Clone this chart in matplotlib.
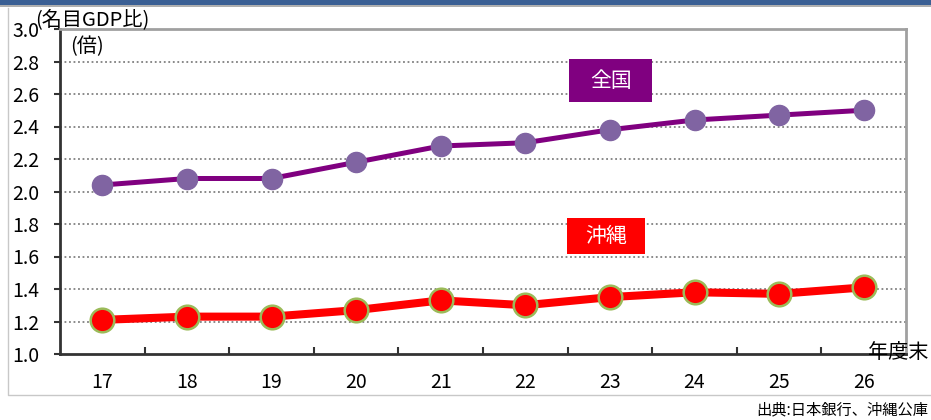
import matplotlib
matplotlib.use("Agg")
import matplotlib.pyplot as plt
from matplotlib.patches import Rectangle
from matplotlib.lines import Line2D

plt.rcParams['font.family'] = ['Noto Sans CJK JP', 'DejaVu Sans']

years = ['17', '18', '19', '20', '21', '22', '23', '24', '25', '26']
zenkoku = [2.04, 2.08, 2.08, 2.18, 2.28, 2.30, 2.38, 2.44, 2.47, 2.50]
okinawa = [1.21, 1.23, 1.23, 1.27, 1.33, 1.30, 1.35, 1.38, 1.37, 1.41]
yticks = [1.0, 1.2, 1.4, 1.6, 1.8, 2.0, 2.2, 2.4, 2.6, 2.8, 3.0]

W, H = 931, 420
fig = plt.figure(figsize=(W / 100, H / 100), dpi=100)
fig.patch.set_facecolor('white')

# top blue band and outer frame
fig.add_artist(Rectangle((0, 1 - 5 / H), 1, 5 / H, transform=fig.transFigure,
                         facecolor='#3a5f94', edgecolor='none'))
fig.add_artist(Line2D([0, 1], [1 - 6 / H, 1 - 6 / H], transform=fig.transFigure,
                      color='#a0a0a0', lw=1.2))
fig.add_artist(Line2D([8 / W, 8 / W, 1], [1 - 8 / H, 1 - 395 / H, 1 - 395 / H],
                      transform=fig.transFigure, color='#c8c8c8', lw=1))

ax = fig.add_axes([60 / W, 1 - 354 / H, (906 - 60) / W, (354 - 29) / H])
x = list(range(len(years)))

ax.plot(x, zenkoku, color='#800080', lw=3.6, marker='o', markersize=14.5,
        markerfacecolor='#8064a2', markeredgecolor='#8064a2', zorder=3)
ax.plot(x, okinawa, color='#ff0000', lw=5.8, marker='o', markersize=17,
        markerfacecolor='#ff0000', markeredgecolor='#9bbb59', markeredgewidth=1.8,
        zorder=3)

ax.set_xlim(-0.5, len(years) - 0.5)
ax.set_ylim(1.0, 3.0)
ax.set_yticks(yticks)
ax.set_yticklabels([f'{v:.1f}' for v in yticks], fontsize=14)
ax.set_xticks(x)
ax.set_xticklabels(years, fontsize=14)
ax.tick_params(axis='x', length=0, pad=13)
ax.tick_params(axis='y', length=4, width=1.5, direction='out', pad=11, color='#333333')
# minor ticks at category boundaries pointing up
ax.set_xticks([i + 0.5 for i in range(len(years) - 1)], minor=True)
ax.tick_params(axis='x', which='minor', length=5, width=1.5, direction='in', color='#333333')

for v in yticks[1:-1]:
    ax.axhline(v, color='#808080', lw=1.3, ls=(0, (1, 1.5)), zorder=1)

for s in ['left', 'bottom']:
    ax.spines[s].set_color('#333333')
    ax.spines[s].set_linewidth(2)
for s in ['top', 'right']:
    ax.spines[s].set_color('#a0a0a0')
    ax.spines[s].set_linewidth(2)

# series labels (boxes)
ax.add_patch(Rectangle((6.01 - 0.49, 2.549), 0.98, 0.266, facecolor='#800080',
                       edgecolor='none', zorder=5))
ax.text(6.01, 2.682, '全国', fontsize=15, color='white', ha='center', va='center', zorder=6)
ax.add_patch(Rectangle((5.95 - 0.46, 1.617), 0.92, 0.223, facecolor='#ff0000',
                       edgecolor='none', zorder=5))
ax.text(5.95, 1.728, '沖縄', fontsize=15, color='white', ha='center', va='center', zorder=6)

fig.text(35 / W, 1 - 20 / H, '(名目GDP比)', fontsize=14.5, ha='left', va='center')
fig.text(70 / W, 1 - 47 / H, '(倍)', fontsize=14.5, ha='left', va='center')
fig.text(868 / W, 1 - 352 / H, '年度末', fontsize=14.5, ha='left', va='center')
fig.text(928 / W, 1 - 410 / H, '出典:日本銀行、沖縄公庫', fontsize=11, ha='right', va='center')

fig.savefig('out.png', dpi=100)
